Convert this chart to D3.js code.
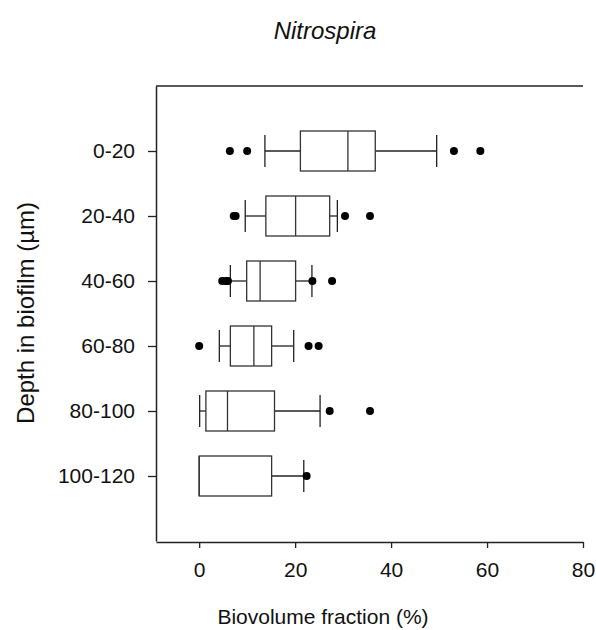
<!DOCTYPE html>
<html>
<head>
<meta charset="utf-8">
<script src="https://cdn.jsdelivr.net/npm/d3@7"></script>
<style>
  body { margin: 0; background: #fff; }
  text { font-family: "Liberation Sans", Arial, sans-serif; fill: #111; }
</style>
</head>
<body>
<div id="chart"></div>
<script>
// depth classes, top to bottom
var depths = ['0-20', '20-40', '40-60', '60-80', '80-100', '100-120'];

// box statistics (% biovolume)
var whiskerLow  = [13.7,  9.6,  6.5,  4.2,  0.1,  0.0];
var q1          = [21.1, 13.9,  9.9,  6.5,  1.4,  0.0];
var median      = [31.0, 20.1, 12.7, 11.4,  5.9,  0.0];
var q3          = [36.7, 27.2, 20.1, 15.1, 15.7, 15.1];
var whiskerHigh = [49.5, 28.8, 23.5, 19.7, 25.2, 21.8];

// outlying points per depth class
var outliers = [
    [6.4, 10.0, 53.1, 58.6],
    [7.2, 7.6, 30.4, 35.6],
    [4.8, 5.5, 6.0, 23.6, 27.7],
    [0.0, 22.8, 24.9],
    [27.2, 35.6],
    [22.4]
];

var xTicks = [0, 20, 40, 60, 80];

var width = 596, height = 630;

var x = d3.scaleLinear()
    .domain([-9, 80])
    .range([156, 583]);

var y = d3.scalePoint()
    .domain(depths)
    .range([86, 541])
    .padding(1);

var svg = d3.select('#chart')
    .append('svg')
    .attr('width', width)
    .attr('height', height);

var boxH = 20, capH = 16;

var rows = depths.map(function(d, i) {
    return {
        depth: d, lo: whiskerLow[i], q1: q1[i], med: median[i],
        q3: q3[i], hi: whiskerHigh[i], out: outliers[i]
    };
});

// frame: top line (the axes give left and bottom)
svg.append('line')
    .attr('x1', x(-9))
    .attr('x2', x(80))
    .attr('y1', 86)
    .attr('y2', 86)
    .attr('stroke', '#222')
    .attr('stroke-width', 1.5);

// left axis
var yAxis = svg.append('g')
    .attr('transform', 'translate(' + x(-9) + ',0)')
    .call(d3.axisLeft(y).tickSize(8).tickSizeOuter(0).tickPadding(13));
yAxis.select('.domain').attr('stroke', '#222').attr('stroke-width', 1.5);
yAxis.selectAll('.tick line').attr('stroke', '#222').attr('stroke-width', 1.3);
yAxis.selectAll('.tick text')
    .style('font-size', '21px')
    .attr('fill', '#111');

// bottom axis
var xAxis = svg.append('g')
    .attr('transform', 'translate(0,' + 542 + ')')
    .call(d3.axisBottom(x).tickValues(xTicks).tickSize(6).tickSizeOuter(0).tickPadding(14));
xAxis.select('.domain').attr('stroke', '#222').attr('stroke-width', 1.5);
xAxis.selectAll('.tick line').attr('stroke', '#222').attr('stroke-width', 1.3);
xAxis.selectAll('.tick text')
    .style('font-size', '21px')
    .attr('fill', '#111');

// boxes
var g = svg.selectAll('.box')
    .data(rows)
    .enter()
    .append('g')
    .attr('class', 'box')
    .attr('transform', function(d) { return 'translate(0,' + y(d.depth) + ')'; });

// whisker lines
g.append('line')
    .attr('x1', function(d) { return x(d.lo); })
    .attr('x2', function(d) { return x(d.q1); })
    .attr('stroke', '#222').attr('stroke-width', 1.3);
g.append('line')
    .attr('x1', function(d) { return x(d.q3); })
    .attr('x2', function(d) { return x(d.hi); })
    .attr('stroke', '#222').attr('stroke-width', 1.3);

// whisker caps (none when whisker sits on the box edge)
g.filter(function(d) { return d.lo < d.q1; })
    .append('line')
    .attr('x1', function(d) { return x(d.lo); })
    .attr('x2', function(d) { return x(d.lo); })
    .attr('y1', -capH).attr('y2', capH)
    .attr('stroke', '#222').attr('stroke-width', 1.3);
g.append('line')
    .attr('x1', function(d) { return x(d.hi); })
    .attr('x2', function(d) { return x(d.hi); })
    .attr('y1', -capH).attr('y2', capH)
    .attr('stroke', '#222').attr('stroke-width', 1.3);

// box
g.append('rect')
    .attr('x', function(d) { return x(d.q1); })
    .attr('y', -boxH)
    .attr('width', function(d) { return x(d.q3) - x(d.q1); })
    .attr('height', boxH * 2)
    .attr('fill', '#fff')
    .attr('stroke', '#333')
    .attr('stroke-width', 1.3);

// median
g.append('line')
    .attr('x1', function(d) { return x(d.med); })
    .attr('x2', function(d) { return x(d.med); })
    .attr('y1', -boxH).attr('y2', boxH)
    .attr('stroke', '#333').attr('stroke-width', 1.3);

// outliers
g.selectAll('circle')
    .data(function(d) { return d.out; })
    .enter()
    .append('circle')
    .attr('cx', function(v) { return x(v); })
    .attr('cy', 0)
    .attr('r', 4)
    .attr('fill', '#000');

// title
svg.append('text')
    .attr('x', 325)
    .attr('y', 39)
    .attr('text-anchor', 'middle')
    .style('font-size', '24px')
    .style('font-style', 'italic')
    .text('Nitrospira');

// x label
svg.append('text')
    .attr('x', 323)
    .attr('y', 624)
    .attr('text-anchor', 'middle')
    .style('font-size', '21px')
    .text('Biovolume fraction (%)');

// y label
svg.append('text')
    .attr('transform', 'translate(34,313) rotate(-90)')
    .attr('text-anchor', 'middle')
    .style('font-size', '24px')
    .text('Depth in biofilm (µm)');
</script>
</body>
</html>
